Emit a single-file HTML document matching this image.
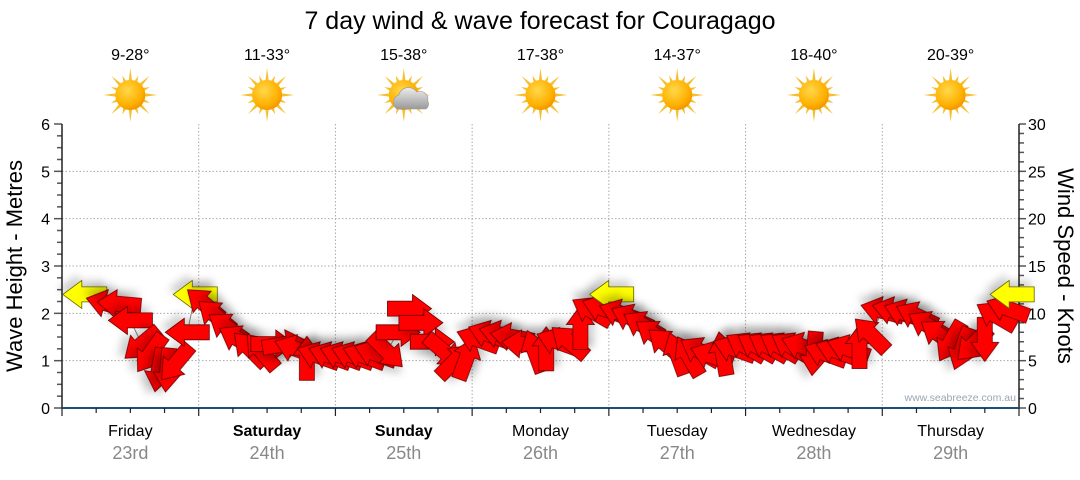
<!DOCTYPE html>
<html><head><meta charset="utf-8"><style>
body{margin:0;background:#fff;width:1080px;height:475px;overflow:hidden}
svg text{font-family:"Liberation Sans","DejaVu Sans",sans-serif}
</style></head><body>
<svg id="c" width="1080" height="475" viewBox="0 0 1080 475" xmlns="http://www.w3.org/2000/svg">
<defs>
<filter id="sh" x="-50%" y="-50%" width="200%" height="200%"><feDropShadow dx="4" dy="6" stdDeviation="4" flood-color="#000" flood-opacity="0.18"/></filter>
<radialGradient id="sun" cx="0.4" cy="0.35" r="0.7"><stop offset="0" stop-color="#ffd84a"/><stop offset="0.7" stop-color="#ffb000"/><stop offset="1" stop-color="#f09000"/></radialGradient>
<linearGradient id="cl" x1="0" y1="0" x2="0" y2="1"><stop offset="0" stop-color="#eee"/><stop offset="1" stop-color="#999"/></linearGradient>
</defs>
<text x="540" y="29" font-size="25" text-anchor="middle" fill="#000">7 day wind &amp; wave forecast for Couragago</text>
<g id="grid"></g><g id="axes"></g><g id="topg"></g><g id="marks"></g>
<text transform="translate(22,266) rotate(-90)" font-size="22" text-anchor="middle">Wave Height - Metres</text>
<text transform="translate(1058,266) rotate(90)" font-size="22" text-anchor="middle">Wind Speed - Knots</text>
<text x="1016" y="401" font-size="10.5" text-anchor="end" fill="#9aa6b2">www.seabreeze.com.au</text>
</svg>
<script>
const days=["Friday","Saturday","Sunday","Monday","Tuesday","Wednesday","Thursday"];
const dates=["23rd","24th","25th","26th","27th","28th","29th"];
const boldDays=[false,true,true,false,false,false,false];
const temps=["9-28°","11-33°","15-38°","17-38°","14-37°","18-40°","20-39°"];
const cloudy=[false,false,true,false,false,false,false];
const hours=[4,8,10,12,14,15.5,17,18.5,20,22,23.4,25,27,29,31,33,35,37,39,41,43,45,47,49,51,53,55,57,59,61,63,65,67,69,71,73,75,77,79,81,83,85,87,89,91,93,95,96.5,98,100,102,104,106,108,110,112,114,116,118,120,122,124,126,128,130,132,134,136,138,140,142,144,146,148,150,152,154,156,158,160,162,164,166,166.8];
const heights=[2.4,2.2,2.2,1.85,1.35,1.15,0.8,0.8,0.95,1.6,2.4,2.2,1.95,1.7,1.45,1.25,1.2,1.35,1.35,1.25,1.05,1.1,1.1,1.1,1.1,1.1,1.15,1.2,1.6,2.1,1.8,1.4,1.2,1.0,1.05,1.45,1.55,1.55,1.5,1.35,1.2,1.25,1.4,1.4,1.7,2.05,2.1,2.4,2.0,1.9,1.75,1.55,1.35,1.15,1.1,1.2,1.1,1.15,1.25,1.3,1.3,1.3,1.3,1.3,1.3,1.15,1.15,1.2,1.25,1.3,1.55,2.05,2.05,2.0,1.95,1.75,1.55,1.4,1.25,1.35,1.45,1.95,2.1,2.4];
const dirs=[180,195,185,180,140,125,100,95,130,180,180,220,220,215,210,225,230,0,350,200,270,200,200,200,200,200,200,45,0,0,0,0,40,315,290,200,200,195,190,185,250,270,200,220,270,210,200,180,200,205,210,215,220,250,240,210,200,260,200,210,210,210,210,210,200,95,200,200,200,270,225,195,195,200,205,210,215,120,110,135,90,210,200,180];
const highlight=[1,0,0,0,0,0,0,0,0,0,1,0,0,0,0,0,0,0,0,0,0,0,0,0,0,0,0,0,0,0,0,0,0,0,0,0,0,0,0,0,0,0,0,0,0,0,0,1,0,0,0,0,0,0,0,0,0,0,0,0,0,0,0,0,0,0,0,0,0,0,0,0,0,0,0,0,0,0,0,0,0,0,0,1];
const waveTicks=[0,1,2,3,4,5,6];
const windTicks=[0,5,10,15,20,25,30];

const NS="http://www.w3.org/2000/svg";
const X0=62,X1=1019,Y0=408,Y1=124;
const xS=h=>X0+h*(X1-X0)/168;
const yS=v=>Y0-v*(Y0-Y1)/6;
const yK=k=>Y0-k*(Y0-Y1)/30;
function mk(p,tag,at){const e=document.createElementNS(NS,tag);for(const k in at)e.setAttribute(k,at[k]);p.appendChild(e);return e;}
const gridG=document.getElementById('grid'),axesG=document.getElementById('axes'),topG=document.getElementById('topg'),marksG=document.getElementById('marks');

waveTicks.forEach(v=>{
  if(v>0&&v<6){const l=mk(gridG,'line',{x1:X0,x2:X1,y1:yS(v),y2:yS(v),stroke:'#aaa','stroke-dasharray':'1.5,2','stroke-width':1});
  
  }
  const t=mk(axesG,'text',{x:50,y:yS(v)+6,'font-size':16,'text-anchor':'end'});t.textContent=v;
  
  
});
for(let i=0;i<=24;i++){const y=Y0-i*(Y0-Y1)/24;mk(axesG,'line',{x1:i%4?57:54,x2:X0,y1:y,y2:y,stroke:'#555','stroke-width':1.5});}
windTicks.forEach(k=>{const t=mk(axesG,'text',{x:1028,y:yK(k)+6,'font-size':16});t.textContent=k;
  
  });
for(let i=0;i<=30;i++){const y=yK(i);mk(axesG,'line',{x1:X1,x2:X1+(i%5?5:7),y1:y,y2:y,stroke:'#555','stroke-width':1.5});}
mk(axesG,'line',{x1:X0,x2:X0,y1:Y1,y2:Y0,stroke:'#222','stroke-width':1.5});
mk(axesG,'line',{x1:X1,x2:X1,y1:Y1,y2:Y0,stroke:'#222','stroke-width':1.5});
const bx=mk(axesG,'line',{x1:X0,x2:X1,y1:Y0,y2:Y0,stroke:'#1f4e79','stroke-width':2});


for(let h=0;h<=168;h+=6){mk(axesG,'line',{x1:xS(h),x2:xS(h),y1:Y0,y2:Y0+(h%24?5:8),stroke:'#222','stroke-width':1.2});}

days.forEach((d,i)=>{
  const cx=xS(i*24+12);
  if(i>0){const g=mk(gridG,'line',{x1:xS(i*24),x2:xS(i*24),y1:Y1,y2:Y0,stroke:'#aaa','stroke-dasharray':'1.5,2'});
    
    }
  const t=mk(axesG,'text',{x:cx,y:436,'font-size':16,'text-anchor':'middle','font-weight':boldDays[i]?'bold':'normal'});t.textContent=d;
  
  
  const dt=mk(axesG,'text',{x:cx,y:459,'font-size':18,'text-anchor':'middle',fill:'#888'});dt.textContent=dates[i];
  
  
  const tt=mk(topG,'text',{x:cx,y:60,'font-size':16,'text-anchor':'middle'});tt.textContent=temps[i];
  
  
  const g=mk(topG,'g',{transform:`translate(${cx},95)`});
  
  
  let rays='';for(let r=0;r<16;r++){const a=r*Math.PI/8,L=r%2?21:27;const a1=a-0.12,a2=a+0.12;
    rays+=`M${(Math.cos(a1)*14).toFixed(1)},${(Math.sin(a1)*14).toFixed(1)}L${(Math.cos(a)*L).toFixed(1)},${(Math.sin(a)*L).toFixed(1)}L${(Math.cos(a2)*14).toFixed(1)},${(Math.sin(a2)*14).toFixed(1)}Z`;}
  mk(g,'path',{d:rays,fill:'#f5c030'});
  mk(g,'circle',{r:15,fill:'url(#sun)'});
  if(cloudy[i]){mk(g,'path',{d:'M-7,14 a8,8 0 0 1 2,-14 a10,10 0 0 1 18,-3 a8,8 0 0 1 11,9 a6,6 0 0 1 -2,8 Z',fill:'url(#cl)',stroke:'#999','stroke-width':0.6});}
});

let pd='';hours.forEach((h,i)=>{pd+=(i?'L':'M')+xS(h).toFixed(1)+','+yS(heights[i]).toFixed(1);});
const ln=mk(marksG,'path',{d:pd,fill:'none',stroke:'#888','stroke-width':1});


const AR='M-22,-7.5 L3,-7.5 L3,-14 L22,0 L3,14 L3,7.5 L-22,7.5 Z';
hours.forEach((h,i)=>{
  const a=mk(marksG,'path',{d:AR,transform:`translate(${xS(h).toFixed(1)},${yS(heights[i]).toFixed(1)}) rotate(${dirs[i]})`,
    fill:highlight[i]?'#ffff00':'#ff0000',stroke:highlight[i]?'#666600':'#660000','stroke-width':0.8,filter:'url(#sh)'});
  
  
});
</script>
</body></html>
